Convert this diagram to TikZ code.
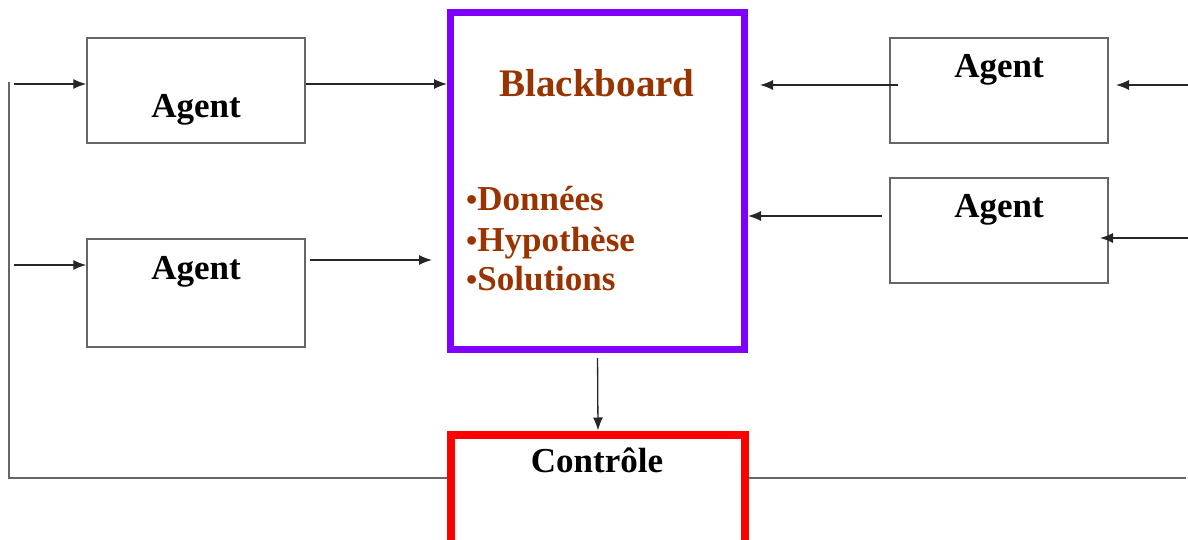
\documentclass[tikz,border=0pt]{standalone}
\usepackage{fontspec}
\setmainfont{Liberation Serif}
\usetikzlibrary{positioning, calc, arrows.meta}

\definecolor{bbviolet}{RGB}{127,0,255}
\definecolor{bbbrown}{RGB}{153,51,0}

\tikzset{
	agentbox/.style={draw=black!60, line width=1.5pt, minimum width=218pt, minimum height=105pt, inner sep=0pt},
	lbl/.style={font=\fontsize{35}{40}\selectfont\bfseries, inner sep=0pt, anchor=base},
	conn/.style={line width=1.3pt, black!85, -{Latex[length=13pt,width=10pt]}},
	wire/.style={line width=1.5pt, black!60},
}

\begin{document}
\begin{tikzpicture}[x=1pt, y=-1pt]
		\useasboundingbox (0,0) rectangle (1188,540);
		
		%//the agents
		\foreach \n/\x/\y/\h/\ty in {agTL/196/90.5/105/118, agML/196/293/108/279, agTR/999/90.5/105/78, agMR/999/230.5/105/218}
		{
		\node [agentbox, minimum height=\h pt] (\n) at (\x, \y) {};
		\node [lbl] (\n-txt) at (\x, \ty) {Agent};
		}
		
		%//blackboard and control
		\node [draw=bbviolet, line width=7pt, minimum width=294pt, minimum height=337pt, inner sep=0pt] (bb) at (597.5, 181) {};
		\node [lbl, text=bbbrown, font=\fontsize{39}{44}\selectfont\bfseries] (bbtitle) at (597, 97) {Blackboard};
		\foreach \k/\t/\y in {1/Donn\'ees/211, 2/Hypoth\`ese/251, 3/Solutions/290}
		\node [lbl, anchor=base west, text=bbbrown] (bbitem\k) at (466, \y) {{\fontsize{32}{34}\selectfont\textbullet}\t};
		
		\node [draw=red, line width=8pt, minimum width=294pt, minimum height=130pt, inner sep=0pt] (ctrl) at (598, 499.5) {};
		\node [lbl] (ctrltxt) at (597, 472) {Contr\^ole};
		
		%//free ends
		\coordinate (lefttop) at (9, 82);
		\coordinate (leftbot) at (9, 478);
		\coordinate (rightend) at (1186, 478);
		\coordinate (inTL) at (14, 84);
		\coordinate (inML) at (14, 265);
		\coordinate (mlstart) at (310, 260);
		\coordinate (mlend) at (432, 260);
		\coordinate (trstart) at (898, 85);
		\coordinate (trend) at (760, 85);
		\coordinate (mrstart) at (882, 216);
		\coordinate (inTR) at (1188, 85);
		\coordinate (inTRend) at (1116, 85);
		\coordinate (inMR) at (1188, 238);
		\coordinate (inMRend) at (1100, 238);
		
		%//connectors
		\draw [wire] (lefttop) -- (leftbot) -- (leftbot -| ctrl.west);
		\draw [wire] (ctrl.east |- rightend) -- (rightend);
		\draw [conn] (inTL) -- (inTL -| agTL.west);
		\draw [conn] (inML) -- (inML -| agML.west);
		\draw [conn] (agTL.east |- inTL) -- (bb.west |- inTL);
		\draw [conn] (mlstart) -- (mlend);
		\draw [conn] (trstart) -- (trend);
		\draw [conn] (mrstart) -- (mrstart -| bb.east);
		\draw [conn] (inTR) -- (inTRend);
		\draw [conn] (inMR) -- (inMRend);
		\draw [conn, shorten <=5pt] (bb.south) -- (ctrl.north);
		\end{tikzpicture}
\end{document}
